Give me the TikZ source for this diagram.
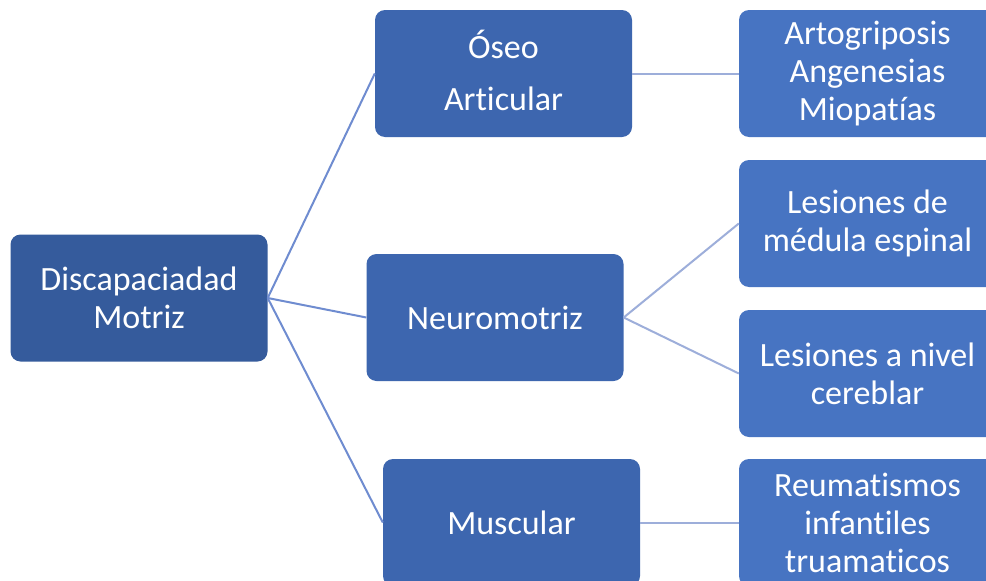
\documentclass[tikz,border=0pt]{standalone}
\usepackage{fontspec}
\setmainfont{Carlito}[RawFeature={-liga;-clig;-dlig;-calt}]
\definecolor{rootc}{HTML}{355B9C}
\definecolor{midc}{HTML}{3D66AF}
\definecolor{leafc}{HTML}{4774C2}
\definecolor{lineA}{HTML}{6F8CD0}
\definecolor{lineB}{HTML}{9DAEDA}
\tikzset{
  box/.style={rectangle, rounded corners=10pt, draw=none, text=white, align=center,
    minimum width=257pt, minimum height=127pt, inner sep=0pt,
    font=\fontsize{34}{38}\selectfont},
  rootbox/.style={box, fill=rootc},
  midbox/.style={box, fill=midc},
  leafbox/.style={box, fill=leafc},
  linkA/.style={draw=lineA, line width=2pt},
  linkB/.style={draw=lineB, line width=2pt}
}
\begin{document}
\begin{tikzpicture}[x=1pt,y=-1pt]
\useasboundingbox (0,0) rectangle (986,581);
\fill[white] (0,0) rectangle (986,581);
\node[rootbox] (root) at (139,298) {Discapaciadad\\Motriz};
\node[midbox, text depth=6pt] (oseo) at (503.5,73.5) {Óseo\\[14pt]Articular};
\node[midbox] (neuro) at (495,317.5) {Neuromotriz};
\node[midbox] (musc) at (511.5,522.5) {Muscular};
\node[leafbox] (l1) at (867.5,73.5) {Artogriposis\\Angenesias\\Miopatías};
\node[leafbox] (l2) at (867.5,223.5) {Lesiones de\\médula espinal};
\node[leafbox] (l3) at (867.5,373.5) {Lesiones a nivel\\cereblar};
\node[leafbox] (l4) at (867.5,522.5) {Reumatismos\\infantiles\\truamaticos};
\draw[linkA] (root.east) -- (oseo.west);
\draw[linkA] (root.east) -- (neuro.west);
\draw[linkA] (root.east) -- (musc.west);
\draw[linkB] (oseo.east) -- (l1.west);
\draw[linkB] (neuro.east) -- (l2.west);
\draw[linkB] (neuro.east) -- (l3.west);
\draw[linkB] (musc.east) -- (l4.west);
\end{tikzpicture}
\end{document}
